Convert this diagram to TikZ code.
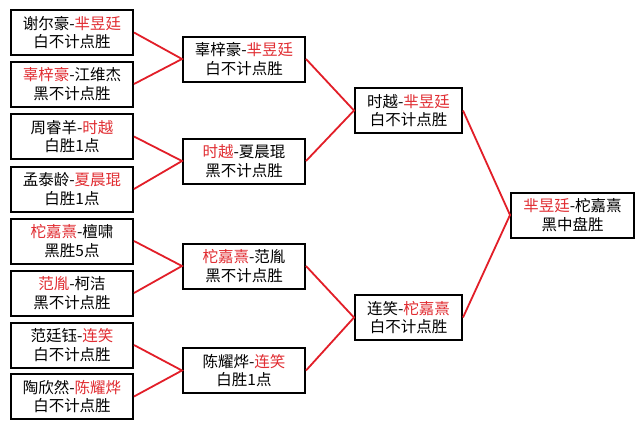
\documentclass[tikz,border=0pt]{standalone}
\usepackage{fontspec}
\newfontfamily\cjk{Noto Sans CJK SC}
\definecolor{hred}{RGB}{226,30,40}
\definecolor{tred}{RGB}{225,45,50}
\tikzset{
  game/.style={draw=black, line width=2pt, fill=white, align=center, inner sep=0pt,
    minimum height=45pt, font=\cjk\fontsize{15.5}{18.5}\selectfont},
  w1/.style={game, minimum width=122pt},
  w3/.style={game, minimum width=107pt},
  w4/.style={game, minimum width=123pt},
  link/.style={draw=hred, line width=1.8pt}
}
\newcommand{\rd}[1]{\textcolor{tred}{#1}}
\begin{document}
\begin{tikzpicture}[x=1pt,y=-1pt]
\path[fill=white] (0,0) rectangle (643,429);
\useasboundingbox (0,0) rectangle (643,429);
% column 1
\node[w1] (a1) at (72,32.5) {谢尔豪-\rd{芈昱廷}\\白不计点胜};
\node[w1] (a2) at (72,84) {\rd{辜梓豪}-江维杰\\黑不计点胜};
\node[w1] (a3) at (72,136.5) {周睿羊-\rd{时越}\\白胜1点};
\node[w1] (a4) at (72,189) {孟泰龄-\rd{夏晨琨}\\白胜1点};
\node[w1] (a5) at (72,241) {\rd{柁嘉熹}-檀啸\\黑胜5点};
\node[w1] (a6) at (72,293) {\rd{范胤}-柯洁\\黑不计点胜};
\node[w1] (a7) at (72,345) {范廷钰-\rd{连笑}\\白不计点胜};
\node[w1] (a8) at (72,396.5) {陶欣然-\rd{陈耀烨}\\白不计点胜};
% column 2
\node[w1] (b1) at (244,59) {辜梓豪-\rd{芈昱廷}\\白不计点胜};
\node[w1] (b2) at (244,161) {\rd{时越}-夏晨琨\\黑不计点胜};
\node[w1] (b3) at (244,266) {\rd{柁嘉熹}-范胤\\黑不计点胜};
\node[w1] (b4) at (244,370.5) {陈耀烨-\rd{连笑}\\白胜1点};
% column 3
\node[w3] (c1) at (408.5,110.5) {时越-\rd{芈昱廷}\\白不计点胜};
\node[w3] (c2) at (408.5,317.5) {连笑-\rd{柁嘉熹}\\白不计点胜};
% column 4
\node[w4] (d1) at (572.5,215) {\rd{芈昱廷}-柁嘉熹\\黑中盘胜};
% links
\draw[link] (a1.east) -- (b1.west) -- (a2.east);
\draw[link] (a3.east) -- (b2.west) -- (a4.east);
\draw[link] (a5.east) -- (b3.west) -- (a6.east);
\draw[link] (a7.east) -- (b4.west) -- (a8.east);
\draw[link] (b1.east) -- (c1.west) -- (b2.east);
\draw[link] (b3.east) -- (c2.west) -- (b4.east);
\draw[link] (c1.east) -- (d1.west) -- (c2.east);
\end{tikzpicture}
\end{document}
